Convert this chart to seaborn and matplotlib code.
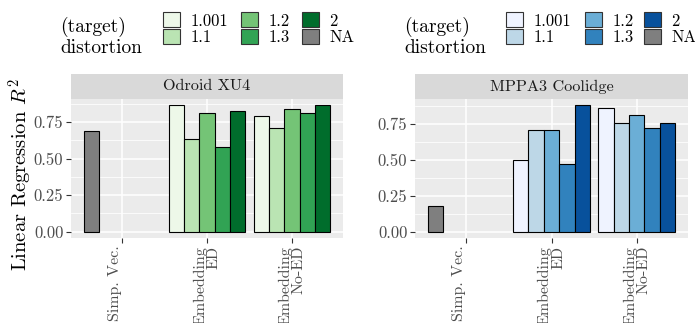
import numpy as np
import pandas as pd
import matplotlib
matplotlib.use("Agg")
import matplotlib.pyplot as plt
import matplotlib.ticker as mticker
from matplotlib.patches import Patch
import seaborn as sns

# ---------------- data ----------------
categories = ["Simp. Vec.", "Embedding\nED", "Embedding\nNo-ED"]
distortions = ["1.001", "1.1", "1.2", "1.3", "2"]
panels = ["Odroid XU4", "MPPA3 Coolidge"]

odroid_simp_na = 0.689
odroid_ed = [0.866, 0.634, 0.816, 0.582, 0.830]
odroid_noed = [0.794, 0.709, 0.839, 0.812, 0.866]

mppa_simp_na = 0.181
mppa_ed = [0.502, 0.706, 0.706, 0.474, 0.879]
mppa_noed = [0.861, 0.754, 0.815, 0.722, 0.757]

greens = ["#edf8e9", "#bae4b3", "#74c476", "#31a354", "#006d2c"]
blues = ["#eff3ff", "#bdd7e7", "#6baed6", "#3182bd", "#08519c"]
na_color = "#7f7f7f"

yticks = [0.0, 0.25, 0.50, 0.75]

# ---------------- style ----------------
FAM = ["cmr10", "DejaVu Serif"]
plt.rcParams["font.family"] = FAM
plt.rcParams["mathtext.fontset"] = "cm"
plt.rcParams["axes.formatter.use_mathtext"] = True

W, H = 695, 323
fig = plt.figure(figsize=(W / 100, H / 100), dpi=100)

def fx(px):
    return px / W

def fy(py):
    return 1 - py / H

panel_specs = [
    (panels[0], odroid_simp_na, odroid_ed, odroid_noed, greens, 71, 343, 60, (163, 241, 302)),
    (panels[1], mppa_simp_na, mppa_ed, mppa_noed, blues, 415, 688, 404, (506, 585, 644)),
]

YTICK_FS = 12
XTICK_FS = 11.5
# tick label display: the simple-vector label sits in a two-line block like the others
tick_labels = [categories[0] + "\n", categories[1], categories[2]]

for (title, na_val, ed_vals, noed_vals, pal, xl, xr, title_x, leg_xs) in panel_specs:
    top, bot = 99, 238
    ax = fig.add_axes([fx(xl), fy(bot), fx(xr) - fx(xl), (bot - top) / H])
    ax.set_facecolor("#EBEBEB")

    df_main = pd.DataFrame({
        "method": [categories[1]] * 5 + [categories[2]] * 5,
        "distortion": distortions + distortions,
        "r2": list(ed_vals) + list(noed_vals),
    })
    df_na = pd.DataFrame({"method": [categories[0]], "distortion": ["NA"], "r2": [na_val]})

    pal_dict = dict(zip(distortions, pal))
    pal_dict["NA"] = na_color

    sns.barplot(data=df_main, x="method", y="r2", hue="distortion",
                order=categories, hue_order=distortions, palette=pal_dict,
                width=0.9, dodge=True, edgecolor="black", linewidth=0.8, saturation=1,
                errorbar=None, legend=False, ax=ax, zorder=3)
    sns.barplot(data=df_na, x="method", y="r2", hue="distortion",
                order=categories, hue_order=["NA"] + distortions[1:], palette=pal_dict,
                width=0.9, dodge=True, edgecolor="black", linewidth=0.8, saturation=1,
                errorbar=None, legend=False, ax=ax, zorder=3)

    allv = [na_val] + list(ed_vals) + list(noed_vals)
    ymax = max(allv)
    ax.set_ylim(-0.05 * ymax, 1.05 * ymax)
    ax.set_xlim(-0.6, 2.6)
    ax.set_yticks(yticks)
    ax.yaxis.set_major_formatter(mticker.FormatStrFormatter("%.2f"))
    ax.yaxis.set_minor_locator(mticker.MultipleLocator(0.125))
    ax.set_axisbelow(True)
    ax.grid(which="major", axis="both", color="white", lw=1.1, zorder=0)
    ax.grid(which="minor", axis="y", color="white", lw=0.55, zorder=0)
    ax.tick_params(which="minor", length=0)
    ax.tick_params(which="major", length=3.5, color="#333333", width=0.8,
                   labelcolor="#4D4D4D", pad=2)
    ax.tick_params(axis="y", labelsize=YTICK_FS)
    ax.tick_params(axis="x", labelsize=XTICK_FS, pad=2)
    for s in ax.spines.values():
        s.set_visible(False)
    ax.set_xlabel("")
    ax.set_ylabel("")
    ax.set_xticks(range(len(categories)))
    ax.set_xticklabels(tick_labels, rotation=90, ha="center", va="top",
                       multialignment="right", linespacing=1.0)

    # strip
    sax = fig.add_axes([fx(xl), fy(top), fx(xr) - fx(xl), 25 / H])
    sax.set_facecolor("#D9D9D9")
    sax.set_xticks([])
    sax.set_yticks([])
    for s in sax.spines.values():
        s.set_visible(False)
    sax.text(0.5, 0.5, title, ha="center", va="center", fontsize=11.7,
             color="#1A1A1A", transform=sax.transAxes)

    # legend: title on the left, keys in three columns of two
    fig.text(fx(title_x), fy(16.5), "(target)\ndistortion", ha="left", va="top",
             fontsize=14, color="black", linespacing=1.15, family=FAM)
    handles = [Patch(facecolor=c, edgecolor="#333333", lw=0.8) for c in pal]
    labels = list(distortions)
    handles.append(Patch(facecolor=na_color, edgecolor="#333333", lw=0.8))
    labels.append("NA")
    for ci, lx in enumerate(leg_xs):
        fig.legend(handles[2 * ci:2 * ci + 2], labels[2 * ci:2 * ci + 2],
                   ncol=1, loc="upper left", bbox_to_anchor=(fx(lx), fy(12.5)),
                   frameon=False, prop={"family": FAM, "size": 12},
                   handlelength=1.0, handleheight=1.0,
                   labelspacing=0.0, handletextpad=0.65,
                   borderpad=0, borderaxespad=0)

fig.text(fx(21), fy(175), "Linear Regression $R^2$", rotation=90, ha="center",
         va="center", fontsize=14.8, family=FAM)

fig.savefig("out.png", dpi=100)
